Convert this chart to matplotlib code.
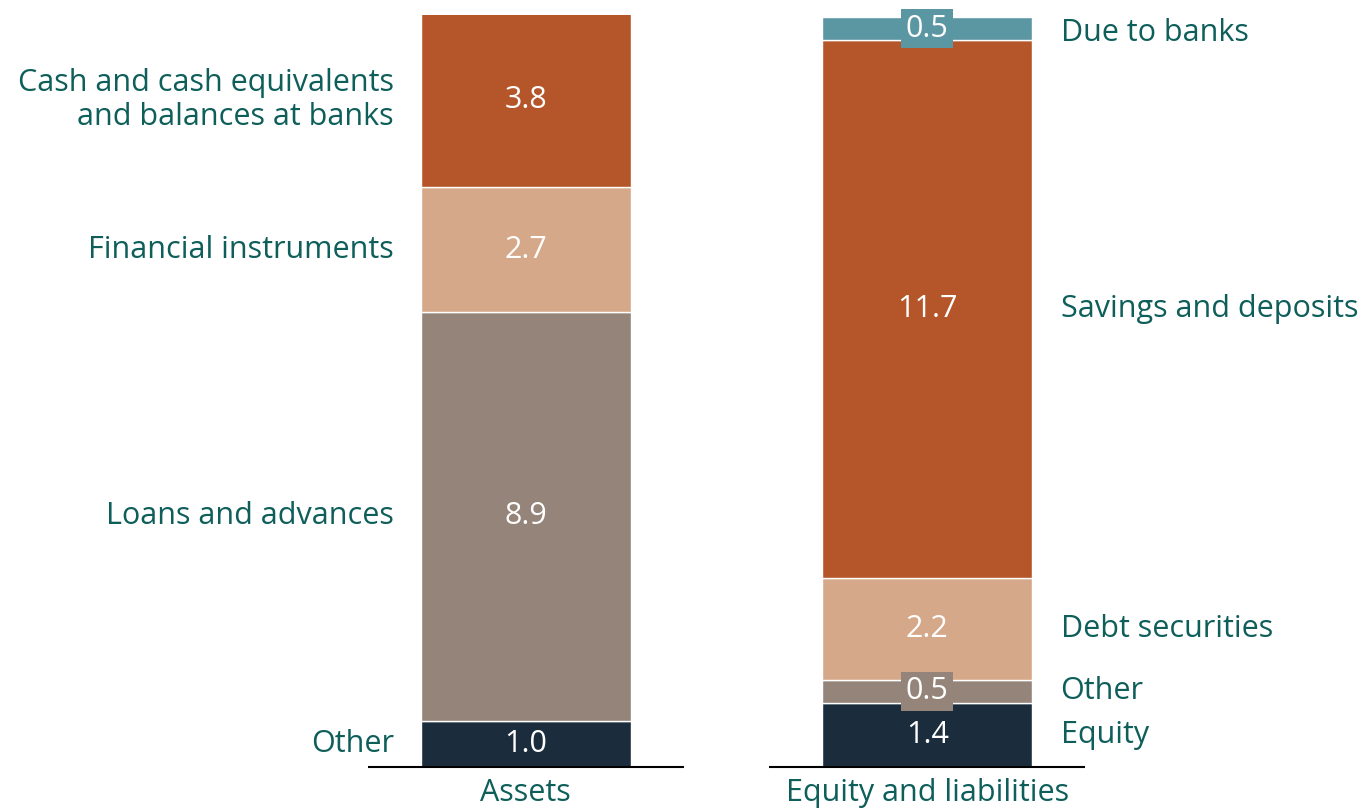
import matplotlib.pyplot as plt

# values (bottom to top)
asset_labels = ['Other', 'Loans and advances', 'Financial instruments',
                'Cash and cash equivalents\nand balances at banks']
asset_values = [1.0, 8.9, 2.7, 3.8]

liab_labels = ['Equity', 'Other', 'Debt securities', 'Savings and deposits', 'Due to banks']
liab_values = [1.4, 0.5, 2.2, 11.7, 0.5]

bar_names = ['Assets', 'Equity and liabilities']

asset_colors = ['#1b2d3c', '#958479', '#d5a889', '#b5562a']
liab_colors = ['#1b2d3c', '#958479', '#d5a889', '#b5562a', '#5b96a3']
text_color = '#0e5e5a'

plt.rcParams['font.family'] = ['Open Sans', 'DejaVu Sans']
fs = 22

fig = plt.figure(figsize=(13.67, 8.11), dpi=100)
ax = fig.add_axes([368 / 1367, 44 / 811, (1085 - 368) / 1367, 752 / 811])

width = 0.522
half_line = 0.393


def draw_stack(x, values, colors, labels, side):
    bottom = 0
    for v, c, lab in zip(values, colors, labels):
        ax.bar(x, v, width=width, bottom=bottom, color=c, edgecolor='white', linewidth=1)
        mid = bottom + v / 2
        ax.text(x, mid, f'{v:.1f}', ha='center', va='center', color='white', fontsize=fs,
                bbox=dict(boxstyle='square,pad=0.15', fc=c, ec='none'))
        if side == 'left':
            ax.text(x - 0.328, mid, lab, ha='right', va='center', color=text_color,
                    fontsize=fs, linespacing=1.2, clip_on=False)
        else:
            off = 0.1 if lab == 'Due to banks' else 0
            ax.text(x + 0.332, mid - off, lab, ha='left', va='center', color=text_color,
                    fontsize=fs, clip_on=False)
        bottom += v
    ax.hlines(0, x - half_line, x + half_line, color='black', linewidth=1.5, clip_on=False)


draw_stack(0, asset_values, asset_colors, asset_labels, 'left')
draw_stack(1, liab_values, liab_colors, liab_labels, 'right')

ax.set_xlim(-half_line, 1 + half_line)
ax.set_ylim(0, 16.35)
ax.set_xticks([0, 1])
ax.set_xticklabels(bar_names, fontsize=fs, color=text_color)
ax.tick_params(axis='x', length=0, pad=8)
ax.set_yticks([])
for s in ax.spines.values():
    s.set_visible(False)

fig.savefig('out.png', dpi=100)
